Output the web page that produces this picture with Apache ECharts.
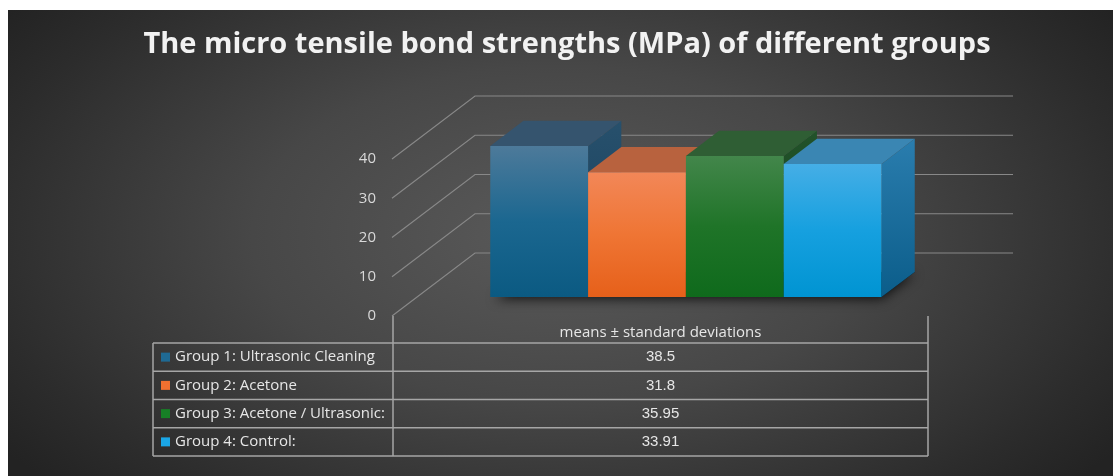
<!DOCTYPE html>
<html>
<head>
<meta charset="utf-8">
<script src="https://cdn.jsdelivr.net/npm/echarts@6/dist/echarts.min.js"></script>
<style>
  html, body { margin: 0; padding: 0; background: #fff; }
  #bg {
    position: absolute; left: 8px; top: 10px; width: 1105px; height: 466px;
    background: radial-gradient(ellipse 62% 80% at 50% 48%, #5a5a5a 0%, #474747 45%, #2c2c2c 85%, #232323 100%);
  }
  #chart { position: absolute; left: 0; top: 0; width: 1117px; height: 476px; }
</style>
</head>
<body>
<div id="bg"></div>
<div id="chart"></div>
<script>
// =====================
// Data
// =====================
const TITLE = "The micro tensile bond strengths (MPa) of different groups"
const groups = [
  "Group 1: Ultrasonic Cleaning",
  "Group 2: Acetone",
  "Group 3: Acetone / Ultrasonic:",
  "Group 4: Control:"
]
const means = [38.5, 31.8, 35.95, 33.91]
const yTicks = [0, 10, 20, 30, 40]
const tableHeader = "means ± standard deviations"

// =====================
// Styles
// =====================
const BAR_COLORS = [
  { top: "#35546e", side: ["#27506c", "#173f5c"], front: ["#4d7a9a", "#1b6790", "#0b5a82"], key: "#1f6a94" },
  { top: "#b8623e", side: ["#b5531f", "#a5440f"], front: ["#f28758", "#ef7534", "#e6601a"], key: "#f07030" },
  { top: "#2f5e34", side: ["#22522a", "#144618"], front: ["#43864b", "#1f7428", "#0f6a1c"], key: "#178026" },
  { top: "#3a86b3", side: ["#2a7dae", "#0b5d8a"], front: ["#45aee6", "#16a0df", "#0094d2"], key: "#1aa6e6" }
]
const GRID_COLOR = "#888888"
const TABLE_LINE = "#a6a6a6"
const TEXT_COLOR = "#e6e6e6"

// oblique depth of the floor, in px
const DEPTH = [83, -63]
const BAR_FRONT = 0.3
const BAR_BACK = 0.7
const X_MIN = -0.75
const X_MAX = 4.75

function shift(p, f) {
  return [p[0] + DEPTH[0] * f, p[1] + DEPTH[1] * f]
}

function vGrad(stops) {
  return new echarts.graphic.LinearGradient(0, 0, 0, 1,
    stops.map((c, i) => ({ offset: i / (stops.length - 1), color: c })))
}

// =====================
// 3D gridlines (left wall + back wall)
// =====================
function renderGrid(params, api) {
  const v = api.value(1)
  const a = api.coord([X_MIN, v])
  const b = api.coord([X_MAX, v])
  return {
    type: "polyline",
    shape: { points: [a, shift(a, 1), shift(b, 1)] },
    style: { stroke: GRID_COLOR, lineWidth: 1.2, fill: null }
  }
}

// =====================
// Floor shadow (hidden sheet, only the blur shows)
// =====================
function renderShadow(params, api) {
  const p0 = api.coord([0.05, 0])
  const p1 = api.coord([means.length, 0])
  const pts = [shift(p0, BAR_FRONT), shift(p1, BAR_FRONT), shift(p1, BAR_BACK), shift(p0, BAR_BACK)]
  return {
    type: "polygon",
    shape: { points: pts },
    style: { fill: "rgba(0,0,0,0.9)", shadowBlur: 12, shadowColor: "rgba(0,0,0,0.85)", shadowOffsetX: 0, shadowOffsetY: 2 }
  }
}

// =====================
// 3D bars
// =====================
function renderBar(params, api) {
  const i = api.value(0)
  const v = api.value(1)
  const bl = api.coord([i, 0])
  const tr = api.coord([i + 1, v])
  const c = BAR_COLORS[params.dataIndex]

  const fTL = shift([bl[0], tr[1]], BAR_FRONT)
  const fTR = shift(tr, BAR_FRONT)
  const fBR = shift([tr[0], bl[1]], BAR_FRONT)
  const fBL = shift(bl, BAR_FRONT)
  const bTL = shift([bl[0], tr[1]], BAR_BACK)
  const bTR = shift(tr, BAR_BACK)
  const bBR = shift([tr[0], bl[1]], BAR_BACK)

  return {
    type: "group",
    children: [
      { type: "polygon", shape: { points: [fTR, bTR, bBR, fBR] }, style: { fill: vGrad(c.side) } },
      { type: "polygon", shape: { points: [fTL, fTR, bTR, bTL] }, style: { fill: c.top } },
      { type: "polygon", shape: { points: [fTL, fTR, fBR, fBL] }, style: { fill: vGrad(c.front) } }
    ]
  }
}

// =====================
// Data table (graphic)
// =====================
const TABLE_LEFT = 153
const COL_X = 393
const TABLE_RIGHT = 928
const HEAD_TOP = 316
const ROW_TOP = 343
const ROW_H = 28.25

function buildTable() {
  const els = []
  const bottom = ROW_TOP + ROW_H * groups.length
  const line = (x1, y1, x2, y2) => ({
    type: "line",
    shape: { x1, y1, x2, y2 },
    style: { stroke: TABLE_LINE, lineWidth: 1.5 },
    silent: true
  })

  els.push(line(COL_X, HEAD_TOP, COL_X, bottom))
  els.push(line(TABLE_RIGHT, HEAD_TOP, TABLE_RIGHT, bottom))
  els.push(line(TABLE_LEFT, ROW_TOP, TABLE_LEFT, bottom))
  for (let k = 0; k <= groups.length; k++) {
    const y = ROW_TOP + ROW_H * k
    els.push(line(TABLE_LEFT, y, TABLE_RIGHT, y))
  }

  const midX = (COL_X + TABLE_RIGHT) / 2
  els.push({
    type: "text", x: midX, y: 333,
    style: { text: tableHeader, fill: TEXT_COLOR, font: '15px "Open Sans"', align: "center", verticalAlign: "middle" }
  })

  groups.forEach((g, i) => {
    const cy = ROW_TOP + ROW_H * i + ROW_H / 2
    els.push({ type: "rect", shape: { x: 161, y: cy - 4.5, width: 9, height: 9 }, style: { fill: BAR_COLORS[i].key } })
    els.push({
      type: "text", x: 175, y: cy,
      style: { text: g, fill: TEXT_COLOR, font: '15px "Open Sans"', align: "left", verticalAlign: "middle" }
    })
    els.push({
      type: "text", x: midX, y: cy,
      style: { text: String(means[i]), fill: TEXT_COLOR, font: '15px "Liberation Sans"', align: "center", verticalAlign: "middle" }
    })
  })
  return els
}

// =====================
// Chart
// =====================
const chart = echarts.init(document.getElementById("chart"))

const option = {
  animation: false,
  backgroundColor: "transparent",
  grid: { left: 392, right: 187, top: 159, bottom: 160 },
  xAxis: { type: "value", min: X_MIN, max: X_MAX, show: false },
  yAxis: {
    type: "value",
    min: 0,
    max: 40,
    interval: 10,
    axisLine: { show: false },
    axisTick: { show: false },
    splitLine: { show: false },
    axisLabel: { color: "#d9d9d9", fontSize: 15, margin: 16, fontFamily: "Open Sans" }
  },
  graphic: [
    {
      type: "text", x: 567, y: 45,
      style: {
        text: TITLE, fill: "#f2f2f2",
        font: 'bold 29px "Open Sans"',
        align: "center", verticalAlign: "middle"
      }
    },
    ...buildTable()
  ],
  series: [
    {
      type: "custom", name: "grid", silent: true, clip: false, z: 1,
      renderItem: renderGrid,
      data: yTicks.map(v => [X_MIN, v])
    },
    {
      type: "custom", name: "shadow", silent: true, clip: false, z: 2,
      renderItem: renderShadow,
      data: [[0, 0]]
    },
    {
      type: "custom", name: "bars", clip: false, z: 3,
      renderItem: renderBar,
      data: means.map((v, i) => [i, v])
    }
  ]
}

chart.setOption(option)
</script>
</body>
</html>
